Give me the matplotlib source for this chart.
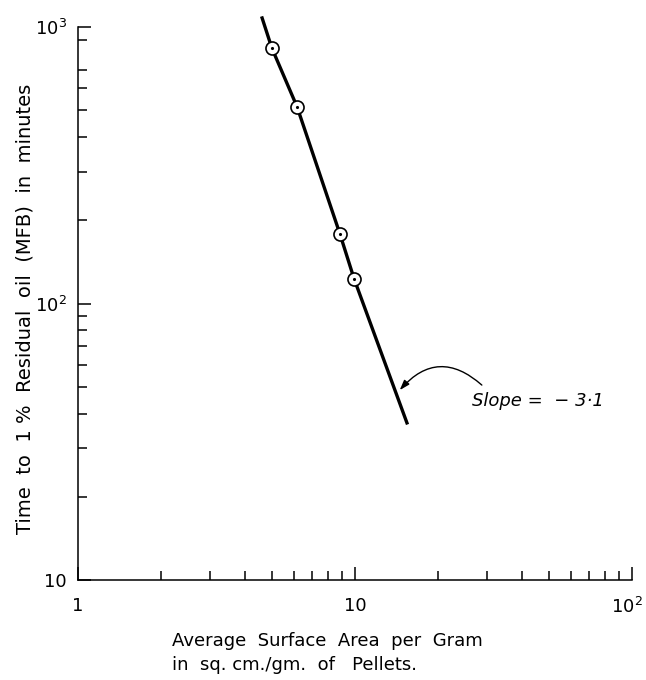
import matplotlib
matplotlib.use("Agg")
import matplotlib.pyplot as plt
import matplotlib.transforms as mtrans
import numpy as np

# Data
area = [5.01, 6.18, 8.83, 9.92]          # sq.cm/gm
time_min = [839, 514, 178, 123]          # minutes
fit_x = [4.62, 5.01, 6.18, 8.83, 9.92, 15.4]
fit_y = [1078, 839, 514, 178, 123, 37]

x_ticks = [1, 10, 100]
x_ticklabels = ["1", "10", r"$10^2$"]
y_ticks = [10, 100, 1000]
y_ticklabels = ["10", r"$10^2$", r"$10^3$"]

plt.rcParams['font.family'] = ['DejaVu Sans']
fig = plt.figure(figsize=(6.46, 6.80), dpi=100)
L, R, T, B = 78, 632, 27, 580
W, H = 646, 680
ax = fig.add_axes([L / W, 1 - B / H, (R - L) / W, (B - T) / H])

ax.set_xscale('log')
ax.set_yscale('log')
ax.set_xlim(1, 100)
ax.set_ylim(10, 1000)

ax.plot(fit_x, fit_y, color='black', lw=2.4, clip_on=False, zorder=2)
ax.plot(area, time_min, 'o', ms=9.4, mfc='white', mec='black', mew=1.2,
        clip_on=False, zorder=3)
ax.plot(area, time_min, '.', ms=2.5, color='black', zorder=4)

for s in ['top', 'right']:
    ax.spines[s].set_visible(False)
for s in ['left', 'bottom']:
    ax.spines[s].set_linewidth(1.1)

ax.set_xticks(x_ticks, labels=x_ticklabels)
ax.set_yticks(y_ticks, labels=y_ticklabels)
xminor = [m * d for d in (1, 10) for m in range(2, 10)]
yminor = [m * d for d in (10, 100) for m in range(2, 10) if m * d != 800]
ax.set_xticks(xminor, minor=True)
ax.set_yticks(yminor, minor=True)
ax.xaxis.set_minor_formatter(matplotlib.ticker.NullFormatter())
ax.yaxis.set_minor_formatter(matplotlib.ticker.NullFormatter())
ax.tick_params(which='both', direction='in', width=1.1, labelsize=13)
ax.tick_params(which='major', length=9.5)
ax.tick_params(which='minor', length=6.5)
ax.tick_params(axis='x', which='major', pad=12)
ax.tick_params(axis='y', which='major', pad=8)

# keep the right-most x tick label inside the figure
last = ax.get_xticklabels()[-1]
last.set_horizontalalignment('right')
last.set_transform(last.get_transform() +
                   mtrans.ScaledTranslation(11 / 100, 0, fig.dpi_scale_trans))

ax.set_xlabel("Average  Surface  Area  per  Gram\nin  sq. cm./gm.  of   Pellets.",
              fontsize=13, ha='left', va='top', multialignment='left',
              linespacing=1.45)
ax.xaxis.set_label_coords((172 - L) / (R - L), (B - 632) / (B - T))
ax.set_ylabel("Time  to  1 %  Residual  oil  (MFB)  in  minutes",
              fontsize=14, va='center')
ax.yaxis.set_label_coords((25 - L) / (R - L), 0.49)

ax.annotate('', xy=(14.5, 48.6), xytext=(28.7, 50.7),
            arrowprops=dict(arrowstyle='-|>,head_length=0.6,head_width=0.2',
                            connectionstyle='arc3,rad=0.5', color='black',
                            lw=1.0, shrinkA=0, shrinkB=0))
ax.text(26.5, 44.5, "Slope =  − 3·1", fontsize=13, style='italic',
        ha='left', va='center')

fig.savefig("out.png", dpi=100)
